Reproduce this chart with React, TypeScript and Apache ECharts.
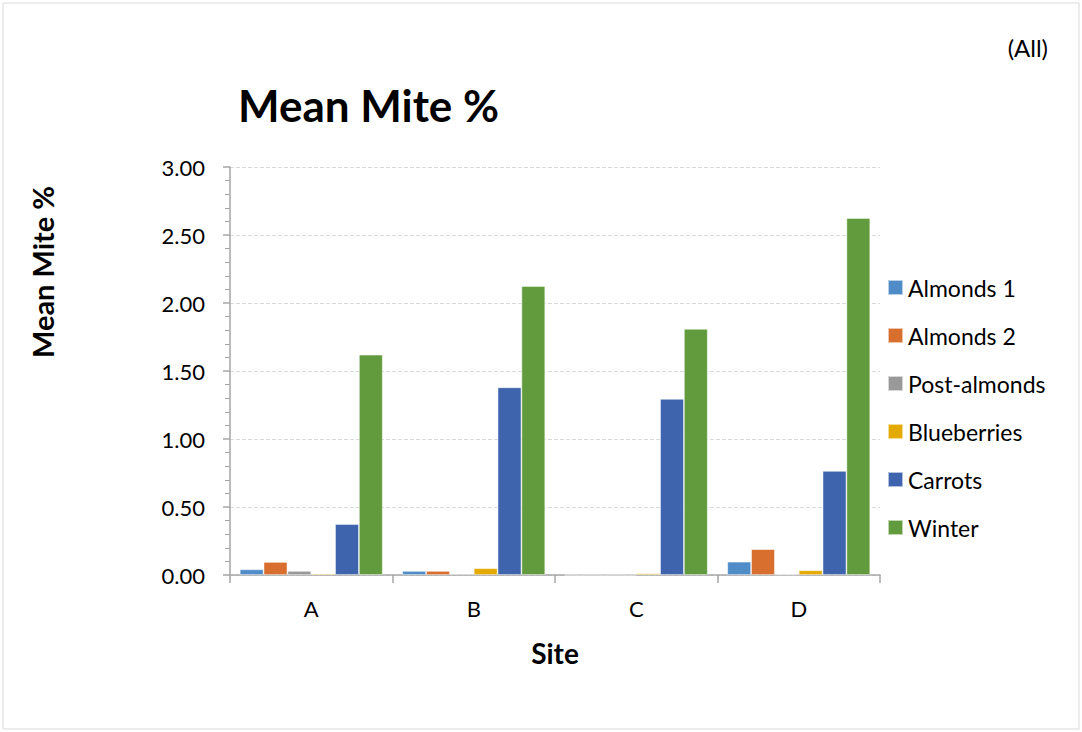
import React, { useEffect, useRef } from "react";
import * as echarts from "echarts";

const sites = ["A", "B", "C", "D"];
const seriesNames = ["Almonds 1", "Almonds 2", "Post-almonds", "Blueberries", "Carrots", "Winter"];
const almonds1 = [0.042, 0.03, 0, 0.098];
const almonds2 = [0.096, 0.03, 0, 0.19];
const postAlmonds = [0.03, 0.01, 0, 0.005];
const blueberries = [0.01, 0.05, 0.012, 0.035];
const carrots = [0.375, 1.38, 1.295, 0.765];
const winter = [1.62, 2.125, 1.81, 2.625];
const colors = ["#4F8CC8", "#D86F2E", "#999999", "#E3AA05", "#3D64AD", "#629B3D"];

const FONT = "Lato, 'Open Sans', sans-serif";

export default function App() {
  const ref = useRef<HTMLDivElement>(null);
  useEffect(() => {
    if (!ref.current) return;
    const chart = echarts.init(ref.current, null, { renderer: "svg" });
    const data = [almonds1, almonds2, postAlmonds, blueberries, carrots, winter];
    chart.setOption({
      animation: false,
      backgroundColor: "#ffffff",
      textStyle: { fontFamily: FONT },
      title: {
        text: "Mean Mite %",
        left: 233,
        top: 78,
        textStyle: { fontFamily: FONT, fontSize: 44, fontWeight: "bold", color: "#000" },
      },
      legend: {
        orient: "vertical",
        left: 882,
        top: 271,
        itemWidth: 15,
        itemHeight: 15,
        itemGap: 25,
        icon: "rect",
        textStyle: { fontFamily: FONT, fontSize: 23, color: "#000" },
        data: seriesNames,
      },
      grid: { left: 230, right: 202, top: 167, bottom: 157, containLabel: false },
      xAxis: {
        type: "category",
        data: sites,
        axisLine: { lineStyle: { color: "#a6a6a6", width: 1.5 } },
        axisTick: { show: true, length: 8, lineStyle: { color: "#a6a6a6", width: 1.5 } },
        axisLabel: { fontFamily: FONT, fontSize: 22, color: "#000", margin: 22 },
      },
      yAxis: {
        type: "value",
        min: 0,
        max: 3,
        interval: 0.5,
        axisLine: { show: true, lineStyle: { color: "#a6a6a6", width: 1.5 } },
        axisTick: { show: true, length: 7, lineStyle: { color: "#a6a6a6", width: 1.5 } },
        minorTick: { show: true, splitNumber: 5, length: 5, lineStyle: { color: "#a6a6a6", width: 1 } },
        splitLine: { show: true, lineStyle: { color: "#d9d9d9", type: "dashed", width: 1 } },
        axisLabel: {
          fontFamily: FONT,
          fontSize: 22,
          color: "#000",
          margin: 25,
          formatter: (v: number) => v.toFixed(2),
        },
      },
      series: seriesNames.map((name, i) => ({
        name,
        type: "bar",
        data: data[i],
        barGap: "0%",
        barCategoryGap: "12%",
        itemStyle: { color: colors[i], borderColor: "rgba(255,255,255,0.6)", borderWidth: 0.8 },
      })),
      graphic: [
        {
          type: "rect",
          shape: { x: 3, y: 3, width: 1076, height: 726 },
          style: { fill: "none", stroke: "#d9d9d9", lineWidth: 1 },
          silent: true,
        },
        {
          type: "text",
          x: 1048,
          y: 47,
          style: { text: "(All)", font: `24px ${FONT}`, fill: "#000", align: "right", verticalAlign: "middle" },
        },
        {
          type: "text",
          x: 42,
          y: 272,
          rotation: Math.PI / 2,
          style: { text: "Mean Mite %", font: `bold 29px ${FONT}`, fill: "#000", align: "center", verticalAlign: "middle" },
        },
        {
          type: "text",
          x: 555,
          y: 653,
          style: { text: "Site", font: `bold 28px ${FONT}`, fill: "#000", align: "center", verticalAlign: "middle" },
        },
      ],
    });
    return () => chart.dispose();
  }, []);
  return <div ref={ref} style={{ position: "absolute", left: 0, top: 0, width: 1082, height: 732 }} />;
}
